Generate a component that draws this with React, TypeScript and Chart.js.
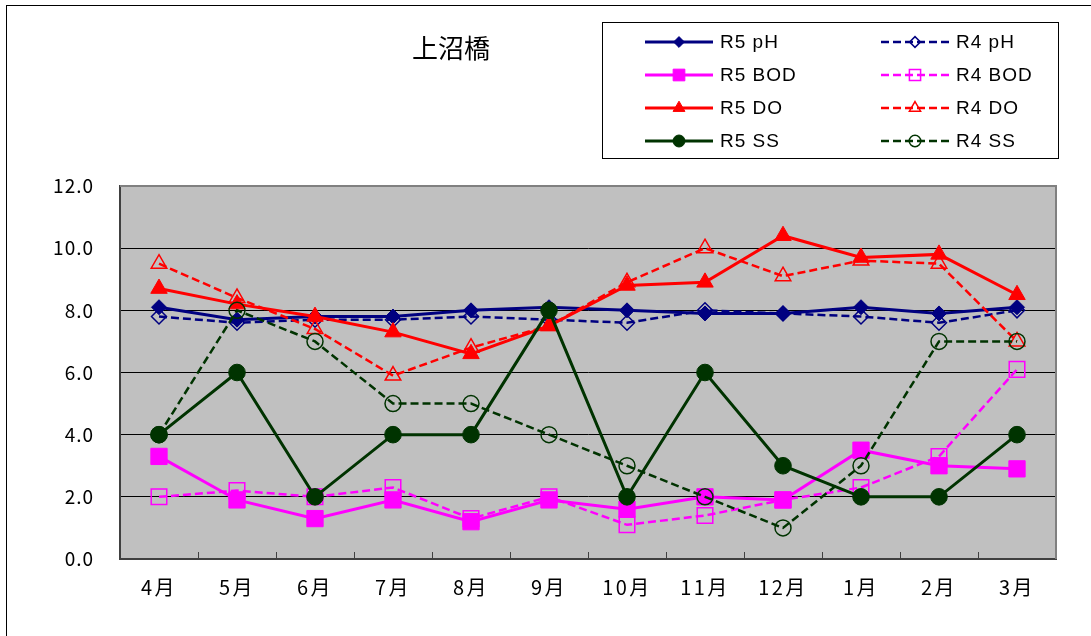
import React, { useEffect, useRef } from 'react';
import { Chart, registerables } from 'chart.js';
import { drawPoint } from 'chart.js/helpers';

Chart.register(...registerables);

const TITLE = '上沼橋';
const MONTHS = ['4月', '5月', '6月', '7月', '8月', '9月', '10月', '11月', '12月', '1月', '2月', '3月'];
const Y_MIN = 0;
const Y_MAX = 12;
const Y_STEP = 2;

const R5_PH = [8.1, 7.7, 7.8, 7.8, 8.0, 8.1, 8.0, 7.9, 7.9, 8.1, 7.9, 8.1];
const R4_PH = [7.8, 7.6, 7.7, 7.7, 7.8, 7.7, 7.6, 8.0, 7.9, 7.8, 7.6, 8.0];
const R5_BOD = [3.3, 1.9, 1.3, 1.9, 1.2, 1.9, 1.6, 2.0, 1.9, 3.5, 3.0, 2.9];
const R4_BOD = [2.0, 2.2, 2.0, 2.3, 1.3, 2.0, 1.1, 1.4, 1.9, 2.3, 3.3, 6.1];
const R5_DO = [8.7, 8.2, 7.8, 7.3, 6.6, 7.5, 8.8, 8.9, 10.4, 9.7, 9.8, 8.5];
const R4_DO = [9.5, 8.4, 7.4, 5.9, 6.8, 7.5, 8.9, 10.0, 9.1, 9.6, 9.5, 7.0];
const R5_SS = [4, 6, 2, 4, 4, 8, 2, 6, 3, 2, 2, 4];
const R4_SS = [4, 8, 7, 5, 5, 4, 3, 2, 1, 3, 7, 7];

const NAVY = '#000080';
const MAGENTA = '#FF00FF';
const RED = '#FF0000';
const GREEN = '#003300';

const CJK = "'Noto Sans CJK JP', 'Noto Sans', sans-serif";
const LATIN = "'Liberation Sans', Arial, sans-serif";

function mk(label: string, data: number[], color: string, style: string, filled: boolean, radius: number, order: number) {
  return {
    label,
    data,
    borderColor: color,
    backgroundColor: color,
    borderWidth: filled ? 3 : 2.5,
    borderDash: filled ? [] : [8, 4],
    pointStyle: style,
    pointRadius: radius,
    pointHoverRadius: radius,
    pointBackgroundColor: filled ? color : 'rgba(0,0,0,0)',
    pointBorderColor: color,
    pointBorderWidth: filled ? 1 : 1.5,
    tension: 0,
    fill: false,
    order,
  };
}

const framePlugin = {
  id: 'frame',
  beforeDraw(chart: any) {
    const { ctx, chartArea } = chart;
    ctx.save();
    ctx.fillStyle = '#ffffff';
    ctx.fillRect(0, 0, chart.width, chart.height);
    ctx.strokeStyle = '#000000';
    ctx.lineWidth = 1;
    ctx.strokeRect(6.5, 5.5, chart.width + 20, chart.height + 20);
    ctx.fillStyle = '#C0C0C0';
    ctx.fillRect(chartArea.left, chartArea.top, chartArea.right - chartArea.left, chartArea.bottom - chartArea.top);
    ctx.restore();
  },
  beforeDatasetsDraw(chart: any) {
    const { ctx, chartArea } = chart;
    ctx.save();
    ctx.strokeStyle = '#808080';
    ctx.lineWidth = 2;
    ctx.beginPath();
    ctx.moveTo(chartArea.left, chartArea.top);
    ctx.lineTo(chartArea.right, chartArea.top);
    ctx.lineTo(chartArea.right, chartArea.bottom);
    ctx.stroke();
    ctx.restore();
  },
  afterDraw(chart: any) {
    const { ctx } = chart;
    ctx.save();
    ctx.fillStyle = '#000';
    ctx.font = `26px ${CJK}`;
    ctx.textAlign = 'center';
    ctx.textBaseline = 'middle';
    ctx.fillText(TITLE, 451, 48);
    ctx.restore();

    // legend
    ctx.save();
    ctx.strokeStyle = '#000';
    ctx.lineWidth = 1;
    ctx.strokeRect(602.5, 22.5, 456, 136);
    chart.data.datasets.forEach((ds: any, i: number) => {
      const col = i % 2;
      const row = Math.floor(i / 2);
      const y = 42 + row * 33;
      const x0 = col ? 881 : 645;
      const x1 = x0 + 68;
      const mx = (x0 + x1) / 2;
      ctx.save();
      ctx.strokeStyle = ds.borderColor;
      ctx.lineWidth = ds.borderWidth;
      ctx.setLineDash(ds.borderDash);
      ctx.beginPath();
      ctx.moveTo(x0, y);
      ctx.lineTo(x1, y);
      ctx.stroke();
      ctx.restore();
      ctx.save();
      ctx.setLineDash([]);
      ctx.fillStyle = ds.pointBackgroundColor;
      ctx.strokeStyle = ds.pointBorderColor;
      ctx.lineWidth = ds.pointBorderWidth;
      drawPoint(ctx, { pointStyle: ds.pointStyle, radius: ds.pointRadius * 0.72, rotation: 0, borderWidth: ds.pointBorderWidth } as any, mx, y);
      ctx.restore();
      ctx.save();
      (ctx as any).letterSpacing = '1px';
      ctx.fillStyle = '#000';
      ctx.font = `19px ${LATIN}`;
      ctx.textAlign = 'left';
      ctx.textBaseline = 'middle';
      ctx.fillText(ds.label, x0 + 75, y + 1);
      ctx.restore();
    });
    ctx.restore();
  },
};

function patchLabels(scale: any, spacing: string) {
  if (scale.__patched) return;
  scale.__patched = true;
  const orig = scale.drawLabels;
  scale.drawLabels = function (area: any) {
    const c = this.ctx;
    c.save();
    c.letterSpacing = spacing;
    orig.call(this, area);
    c.restore();
  };
}

export default function App() {
  const ref = useRef<HTMLCanvasElement | null>(null);

  useEffect(() => {
    if (!ref.current) return;
    const datasets = [
      mk('R5 pH', R5_PH, NAVY, 'rectRot', true, 7.5, 8),
      mk('R4 pH', R4_PH, NAVY, 'rectRot', false, 7.5, 7),
      mk('R5 BOD', R5_BOD, MAGENTA, 'rect', true, 11.5, 6),
      mk('R4 BOD', R4_BOD, MAGENTA, 'rect', false, 11, 5),
      mk('R5 DO', R5_DO, RED, 'triangle', true, 9.5, 4),
      mk('R4 DO', R4_DO, RED, 'triangle', false, 9, 3),
      mk('R5 SS', R5_SS, GREEN, 'circle', true, 8.3, 2),
      mk('R4 SS', R4_SS, GREEN, 'circle', false, 8, 1),
    ];
    const chart = new Chart(ref.current, {
      type: 'line',
      data: { labels: MONTHS, datasets: datasets as any },
      plugins: [framePlugin],
      options: {
        responsive: false,
        animation: false,
        devicePixelRatio: 1,
        layout: { padding: { left: 0, top: 186, right: 35, bottom: 0 } },
        plugins: {
          legend: { display: false },
          title: { display: false },
          tooltip: { enabled: false },
        },
        events: [],
        scales: {
          x: {
            type: 'category',
            offset: true,
            grid: {
              offset: true,
              drawOnChartArea: false,
              drawTicks: true,
              tickLength: -7,
              color: '#404040',
              lineWidth: 1,
            },
            border: { color: '#404040', width: 2 },
            ticks: {
              color: '#000',
              font: { family: CJK, size: 20 },
              padding: 23,
              maxRotation: 0,
              autoSkip: false,
            },
            afterFit(scale: any) {
              scale.height = 77;
              patchLabels(scale, '2.5px');
            },
          },
          y: {
            min: Y_MIN,
            max: Y_MAX,
            grid: {
              drawTicks: false,
              color: (c: any) => (c.tick && c.tick.value === Y_MAX ? '#808080' : '#000000'),
              lineWidth: 1,
            },
            border: { color: '#404040', width: 2 },
            ticks: {
              stepSize: Y_STEP,
              color: '#000',
              font: { family: CJK, size: 19 },
              padding: 26,
              callback: (v: any) => Number(v).toFixed(1),
            },
            afterFit(scale: any) {
              scale.width = 120;
              patchLabels(scale, '1px');
            },
          },
        },
      } as any,
    });
    return () => chart.destroy();
  }, []);

  return (
    <div style={{ position: 'absolute', left: 0, top: 0, width: 1091, height: 636 }}>
      <canvas ref={ref} width={1091} height={636} style={{ display: 'block' }} />
    </div>
  );
}
